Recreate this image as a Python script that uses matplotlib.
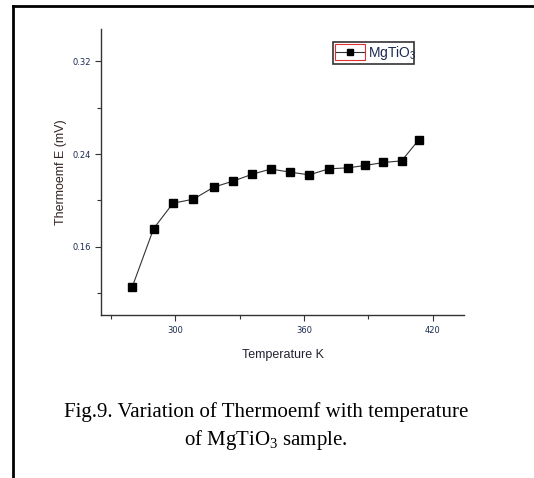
import matplotlib

matplotlib.use("Agg")
import matplotlib.pyplot as plt
from matplotlib.lines import Line2D
from matplotlib.patches import Rectangle
from matplotlib.ticker import MultipleLocator

# values
temperature_k = [280, 290, 299, 308.5, 318, 327, 336, 344.5, 353.5, 362.5,
                 371.5, 380.5, 388.5, 397, 405.5, 413.5]
thermoemf_mv = [0.125, 0.1756, 0.1975, 0.201, 0.2114, 0.2166, 0.2226, 0.227,
                0.2244, 0.222, 0.2272, 0.2281, 0.2301, 0.2327, 0.2341, 0.2523]
x_ticks = [300, 360, 420]
y_ticks = [0.16, 0.24, 0.32]
series_label = r"$\mathregular{MgTiO_3}$"
caption = ["Fig.9. Variation of Thermoemf with temperature",
           r"of $\mathregular{MgTiO_3}$ sample."]

fig = plt.figure(figsize=(5.34, 4.78), dpi=100)
ax = fig.add_axes([0.19, 0.3404, 0.6795, 0.5989])

ax.plot(temperature_k, thermoemf_mv, color="#333333", lw=0.8, marker="s",
        ms=5.2, mfc="black", mec="black", label=series_label)

ax.set_xlim(265.7, 434.7)
ax.set_ylim(0.1007, 0.348)
ax.set_xticks(x_ticks)
ax.set_yticks(y_ticks)
ax.set_yticklabels([f"{v:.2f}" for v in y_ticks])
ax.xaxis.set_minor_locator(MultipleLocator(30))
ax.yaxis.set_minor_locator(MultipleLocator(0.04))
ax.tick_params(which="both", direction="out", labelsize=6, labelcolor="#1a2a50",
               width=0.8, color="#333333")
ax.tick_params(which="major", length=4)
ax.tick_params(which="minor", length=3)
for side in ("top", "right"):
    ax.spines[side].set_visible(False)
for side in ("left", "bottom"):
    ax.spines[side].set_linewidth(1.0)
    ax.spines[side].set_color("#333333")

ax.set_xlabel("Temperature K", fontsize=9, family="Liberation Sans",
              color="#222233", labelpad=10)
ax.set_ylabel("Thermoemf E (mV)", fontsize=9, family="Liberation Sans",
              color="#332222", labelpad=4)

# legend box with the red sample frame, as in the Origin export
fig.patches.append(Rectangle((333 / 534, 1 - 64 / 478), 81 / 534, 22 / 478,
                             transform=fig.transFigure, fill=False,
                             ec="#333333", lw=1.2))
fig.patches.append(Rectangle((335 / 534, 1 - 60 / 478), 30 / 534, 16 / 478,
                             transform=fig.transFigure, fill=False,
                             ec="#e03030", lw=0.8))
fig.lines.append(Line2D([336 / 534, 364 / 534], [1 - 52 / 478, 1 - 52 / 478],
                        transform=fig.transFigure, color="#333333", lw=0.8))
fig.lines.append(Line2D([350 / 534], [1 - 52 / 478], transform=fig.transFigure,
                        marker="s", ms=4, mfc="black", mec="black", ls="none"))
fig.text(368 / 534, 1 - 53 / 478, series_label, fontsize=10,
         family="Liberation Sans", color="#1a2a50", va="center", ha="left")

# page frame lines (left and top)
fig.lines.append(Line2D([13 / 534, 13 / 534], [0, 1 - 6 / 478],
                        transform=fig.transFigure, color="black", lw=2))
fig.lines.append(Line2D([13 / 534, 1], [1 - 6 / 478, 1 - 6 / 478],
                        transform=fig.transFigure, color="black", lw=2))

fig.text(266 / 534, 1 - 412 / 478, caption[0], fontsize=15,
         family="Liberation Serif", ha="center", va="center")
fig.text(266 / 534, 1 - 440 / 478, caption[1], fontsize=15,
         family="Liberation Serif", ha="center", va="center")

fig.savefig("out.png", dpi=100)
